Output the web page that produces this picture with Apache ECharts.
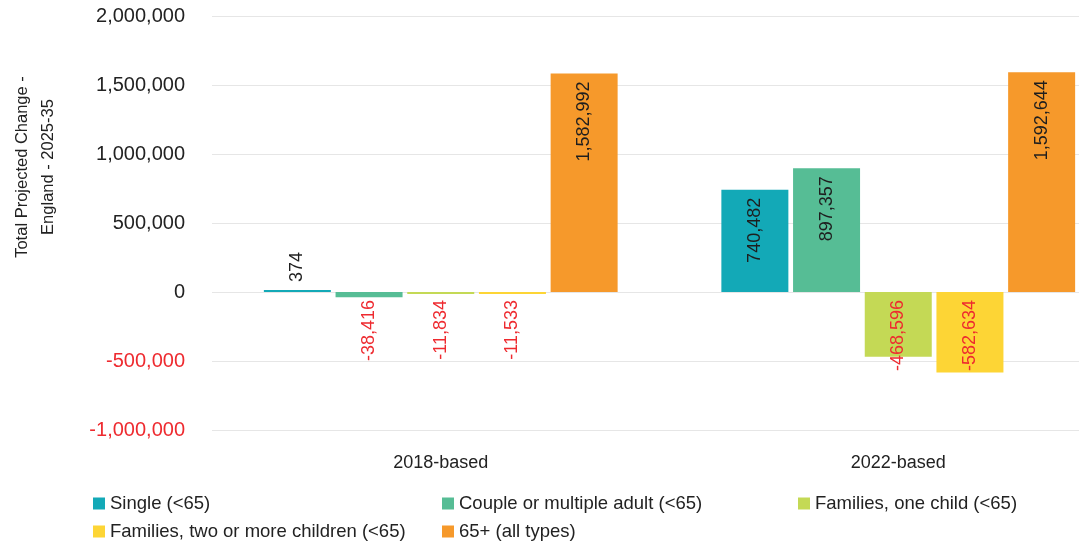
<!DOCTYPE html>
<html>
<head>
<meta charset="utf-8">
<style>
  html, body { margin: 0; padding: 0; background: #ffffff; }
  #chart { width: 1079px; height: 550px; }
</style>
<script src="https://cdn.jsdelivr.net/npm/echarts@6/dist/echarts.min.js"></script>
</head>
<body>
<div id="chart"></div>
<script>
// Projection bases on the category axis
const categories = ['2018-based', '2022-based'];

// Household types (legend order) and their colours
const seriesNames = [
  'Single (<65)',
  'Couple or multiple adult (<65)',
  'Families, one child (<65)',
  'Families, two or more children (<65)',
  '65+ (all types)'
];
const seriesColors = ['#13a9b7', '#56bd95', '#c4d955', '#fdd535', '#f6992b'];

// Total projected change, England 2025-35, per basis [2018, 2022]
const singleValues = [374, 740482];
const coupleValues = [-38416, 897357];
const oneChildValues = [-11834, -468596];
const twoPlusChildValues = [-11533, -582634];
const over65Values = [1582992, 1592644];

// Value axis ticks
const yTicks = [-1000000, -500000, 0, 500000, 1000000, 1500000, 2000000];

const seriesValues = [singleValues, coupleValues, oneChildValues, twoPlusChildValues, over65Values];

const FONT = "'Liberation Sans', Arial, sans-serif";
const fmt = v => v.toLocaleString('en-GB');
const NEG_RED = '#ee2a2f';
const DARK = '#1e1e1e';

// Short positive bars get their label above the bar; everything else
// is anchored at the bar end nearest the top, reading upwards.
function labelFor(v) {
  const common = {
    show: true,
    rotate: 90,
    fontFamily: FONT,
    fontSize: 18,
    color: v < 0 ? NEG_RED : DARK,
    verticalAlign: 'middle'
  };
  if (v >= 0 && v < 100000) {
    return Object.assign(common, { position: 'top', align: 'left', distance: 8 });
  }
  return Object.assign(common, { position: 'insideTop', align: 'right', distance: 8 });
}

const series = seriesNames.map((name, i) => ({
  name: name,
  type: 'bar',
  barWidth: 67,
  barGap: '7%',
  barMinHeight: 2,
  itemStyle: { color: seriesColors[i] },
  label: { formatter: p => fmt(p.value) },
  data: seriesValues[i].map(v => ({ value: v, label: labelFor(v) }))
}));

// One legend block per entry so the entries sit in fixed columns
const legendSlots = [
  { left: 93, top: 494 },
  { left: 442, top: 494 },
  { left: 798, top: 494 },
  { left: 93, top: 522 },
  { left: 442, top: 522 }
];
const legends = seriesNames.map((name, i) => ({
  data: [name],
  left: legendSlots[i].left,
  top: legendSlots[i].top,
  padding: 0,
  orient: 'horizontal',
  icon: 'rect',
  itemWidth: 12,
  itemHeight: 12,
  itemGap: 6,
  selectedMode: false,
  textStyle: { fontFamily: FONT, fontSize: 18.5, color: '#222222' }
}));

const chart = echarts.init(document.getElementById('chart'), null, { renderer: 'canvas' });

chart.setOption({
  animation: false,
  backgroundColor: '#ffffff',
  grid: {
    left: 212,
    right: -48,
    top: 16,
    bottom: 120,
    containLabel: false,
    outerBoundsMode: 'none'
  },
  legend: legends,
  graphic: [{
    type: 'text',
    x: 35,
    y: 167,
    rotation: Math.PI / 2,
    style: {
      text: 'Total Projected Change -\nEngland - 2025-35',
      fontFamily: FONT,
      fontSize: 16.5,
      lineHeight: 26,
      fill: '#222222',
      align: 'center',
      verticalAlign: 'middle'
    }
  }],
  xAxis: {
    type: 'category',
    data: categories,
    axisLine: { show: false, onZero: false },
    axisTick: { show: false },
    axisLabel: {
      margin: 24,
      fontFamily: FONT,
      fontSize: 18,
      color: '#222222'
    }
  },
  yAxis: {
    type: 'value',
    min: yTicks[0],
    max: yTicks[yTicks.length - 1],
    interval: 500000,
    axisLine: { show: false },
    axisTick: { show: false },
    splitLine: { lineStyle: { color: '#e6e6e6', width: 1 } },
    axisLabel: {
      margin: 27,
      fontFamily: FONT,
      fontSize: 20,
      formatter: v => fmt(v),
      color: v => (Number(v) < 0 ? NEG_RED : '#222222')
    }
  },
  series: series
});
</script>
</body>
</html>
